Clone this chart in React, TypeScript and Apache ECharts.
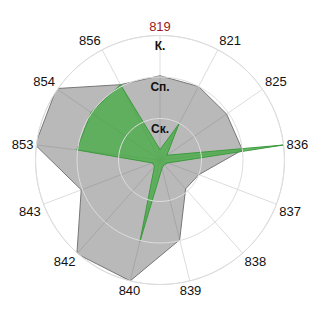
import React, { useEffect, useRef } from "react";
import * as echarts from "echarts";

// Categories clockwise from the top
const categories = ["819", "821", "825", "836", "837", "838", "839", "840", "842", "843", "853", "854", "856"];
// Ring labels for radius values 0..3
const ringLabels = ["", "Ск.", "Сп.", "К."];
// Series values (radius units, 0..3)
const grayValues = [2.03, 2.0, 1.95, 2.0, 1.0, 0.93, 1.98, 3.0, 3.02, 2.03, 3.03, 3.03, 2.05];
const greenValues = [0.25, 0.98, 0.2, 3.0, 0.2, 0.15, 0.2, 2.02, 0.2, 0.2, 2.02, 2.02, 2.05];
const highlighted = "819";

// Points as [radius, category position]; the last one wraps back to the first category
const closed = (vals: number[]) => {
  const pts = vals.map((v, i) => [v, i]);
  pts.push([vals[0], categories.length]);
  return pts;
};

export default function App() {
  const ref = useRef<HTMLDivElement>(null);
  useEffect(() => {
    if (!ref.current) return;
    const chart = echarts.init(ref.current, null, { renderer: "svg" });
    const font = "Liberation Sans, Arial, sans-serif";
    const n = categories.length;
    chart.setOption({
      animation: false,
      backgroundColor: "#ffffff",
      polar: { center: [160, 160], radius: 124.5 },
      angleAxis: {
        type: "value",
        min: 0,
        max: n,
        interval: 1,
        startAngle: 90,
        clockwise: true,
        axisLine: { show: true, lineStyle: { color: "#dddddd", width: 1 } },
        axisTick: { show: false },
        splitLine: { show: true, lineStyle: { color: "#dddddd", width: 1 } },
        axisLabel: {
          color: "#111111",
          fontSize: 13,
          fontFamily: font,
          margin: 3,
          formatter: (v: number) => {
            const name = categories[Math.round(v) % n];
            return name === highlighted ? `{hl|${name}}` : name;
          },
          rich: { hl: { color: "#9a1a1a", fontSize: 13, fontFamily: font } },
        },
      },
      radiusAxis: {
        type: "value",
        min: 0,
        max: 3,
        interval: 1,
        axisLine: { show: false },
        axisTick: { show: false },
        splitLine: { show: true, lineStyle: { color: "#dddddd", width: 1 } },
        axisLabel: {
          show: true,
          margin: 0,
          align: "center",
          verticalAlign: "top",
          padding: [4, 0, 0, 0],
          fontSize: 12,
          fontWeight: "bold",
          fontFamily: font,
          color: "#111111",
          formatter: (v: number) => ringLabels[Math.round(v)] ?? "",
        },
        z: 10,
      },
      series: [
        {
          type: "line",
          coordinateSystem: "polar",
          data: closed(grayValues),
          symbol: "none",
          lineStyle: { color: "#777777", width: 1 },
          areaStyle: { color: "rgba(100,100,100,0.45)", opacity: 1 },
          z: 2,
        },
        {
          type: "line",
          coordinateSystem: "polar",
          data: closed(greenValues),
          symbol: "none",
          lineStyle: { color: "#3c9a3c", width: 1 },
          areaStyle: { color: "rgba(60,170,60,0.72)", opacity: 1 },
          z: 3,
        },
      ],
    });
    return () => chart.dispose();
  }, []);
  return (
    <div
      ref={ref}
      style={{ position: "absolute", left: 0, top: 0, width: 320, height: 320 }}
    />
  );
}
